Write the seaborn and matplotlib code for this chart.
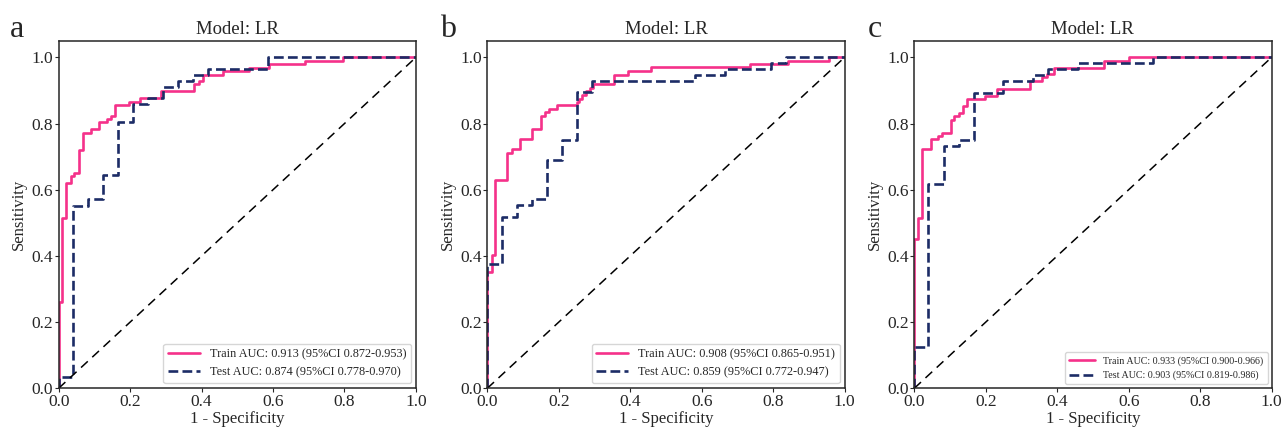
import numpy as np
import pandas as pd
import matplotlib
matplotlib.use("Agg")
import matplotlib.pyplot as plt
import seaborn as sns

# ROC step corners (fpr, tpr after each rise)
train_a_fpr = [0, 0, 0.010, 0.022, 0.034, 0.043, 0.056, 0.067, 0.090, 0.114, 0.136, 0.147, 0.159,
               0.196, 0.229, 0.287, 0.379, 0.392, 0.403, 0.459, 0.532, 0.588, 0.690, 0.797, 1.0]
train_a_tpr = [0, 0.26, 0.516, 0.62, 0.64, 0.65, 0.72, 0.772, 0.784, 0.804, 0.814, 0.824, 0.856,
               0.866, 0.876, 0.897, 0.918, 0.93, 0.948, 0.958, 0.969, 0.979, 0.99, 1.0, 1.0]
test_a_fpr = [0, 0, 0.041, 0.083, 0.125, 0.167, 0.209, 0.251, 0.293, 0.335, 0.377, 0.419, 0.585, 1.0]
test_a_tpr = [0, 0.035, 0.55, 0.572, 0.645, 0.805, 0.858, 0.877, 0.91, 0.93, 0.948, 0.964, 1.0, 1.0]

train_b_fpr = [0, 0, 0.012, 0.021, 0.056, 0.068, 0.091, 0.126, 0.150, 0.162, 0.173, 0.196, 0.250,
               0.258, 0.266, 0.275, 0.287, 0.297, 0.354, 0.394, 0.459, 0.734, 0.842, 0.956, 1.0]
train_b_tpr = [0, 0.35, 0.402, 0.628, 0.712, 0.722, 0.754, 0.784, 0.824, 0.834, 0.845, 0.855, 0.865,
               0.875, 0.885, 0.898, 0.908, 0.918, 0.948, 0.96, 0.97, 0.98, 0.99, 1.0, 1.0]
test_b_fpr = [0, 0, 0.040, 0.082, 0.124, 0.166, 0.208, 0.250, 0.292, 0.580, 0.665, 0.795, 0.837, 1.0]
test_b_tpr = [0, 0.377, 0.518, 0.555, 0.572, 0.69, 0.75, 0.895, 0.928, 0.946, 0.965, 0.983, 1.0, 1.0]

train_c_fpr = [0, 0, 0.011, 0.022, 0.047, 0.067, 0.078, 0.102, 0.111, 0.125, 0.137, 0.148, 0.198,
               0.231, 0.324, 0.357, 0.371, 0.392, 0.532, 0.600, 1.0]
train_c_tpr = [0, 0.452, 0.515, 0.722, 0.752, 0.762, 0.772, 0.812, 0.822, 0.832, 0.852, 0.874, 0.884,
               0.905, 0.928, 0.94, 0.95, 0.967, 0.988, 1.0, 1.0]
test_c_fpr = [0, 0, 0.039, 0.083, 0.125, 0.167, 0.249, 0.333, 0.375, 0.459, 0.669, 1.0]
test_c_tpr = [0, 0.125, 0.618, 0.732, 0.75, 0.891, 0.928, 0.946, 0.964, 0.982, 1.0, 1.0]

panel_letters = ["a", "b", "c"]
train_labels = ["Train AUC: 0.913 (95%CI 0.872-0.953)",
                "Train AUC: 0.908 (95%CI 0.865-0.951)",
                "Train AUC: 0.933 (95%CI 0.900-0.966)"]
test_labels = ["Test AUC: 0.874 (95%CI 0.778-0.970)",
               "Test AUC: 0.859 (95%CI 0.772-0.947)",
               "Test AUC: 0.903 (95%CI 0.819-0.986)"]

PINK = "#f5318a"
NAVY = "#1c2c66"

sns.set_style("ticks")
plt.rcParams["font.family"] = ["Liberation Serif", "DejaVu Serif"]
plt.rcParams["axes.linewidth"] = 1.1

fig = plt.figure(figsize=(12.83, 4.28), dpi=100)
lefts = [0.0457, 0.3798, 0.7126]
letter_x = [0.008, 0.343, 0.676]
legend_fs = [8.8, 8.8, 7.2]

panels = [
    (train_a_fpr, train_a_tpr, test_a_fpr, test_a_tpr),
    (train_b_fpr, train_b_tpr, test_b_fpr, test_b_tpr),
    (train_c_fpr, train_c_tpr, test_c_fpr, test_c_tpr),
]

for i, (trf, trt, tef, tet) in enumerate(panels):
    ax = fig.add_axes([lefts[i], 0.0927, 0.2785, 0.812])
    tr = pd.DataFrame({"fpr": trf, "tpr": trt})
    te = pd.DataFrame({"fpr": tef, "tpr": tet})
    sns.lineplot(data=tr, x="fpr", y="tpr", sort=False, estimator=None, ax=ax,
                 color=PINK, lw=1.9, drawstyle="steps-post", label=train_labels[i])
    sns.lineplot(data=te, x="fpr", y="tpr", sort=False, estimator=None, ax=ax,
                 color=NAVY, lw=1.9, linestyle="--", drawstyle="steps-post", label=test_labels[i])
    ax.plot([0, 1], [0, 1], color="black", lw=1.1, linestyle="--", dashes=(6, 4))
    ax.set_xlim(0, 1)
    ax.set_ylim(0, 1.05)
    ax.set_xticks(np.arange(0, 1.01, 0.2))
    ax.set_yticks(np.arange(0, 1.01, 0.2))
    ax.tick_params(labelsize=12.5, length=3, width=0.8, pad=1)
    ax.set_xlabel("1 - Specificity", fontsize=12, labelpad=1)
    ax.set_ylabel("Sensitivity", fontsize=12, labelpad=3)
    ax.set_title("Model: LR", fontsize=13.5, pad=5)
    ax.legend(loc="lower right", fontsize=legend_fs[i], frameon=True,
              handlelength=2.6, borderaxespad=0.4)
    fig.text(letter_x[i], 0.93, panel_letters[i], fontsize=23, ha="left", va="center")

fig.savefig("out.png", dpi=100)
